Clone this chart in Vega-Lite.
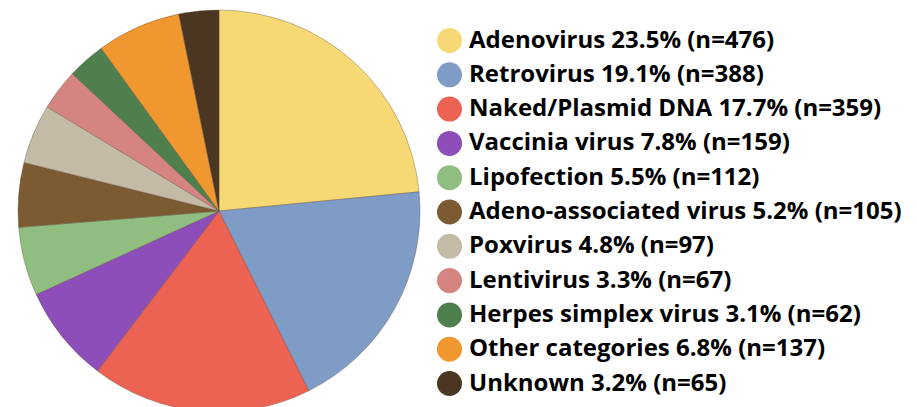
{
  "$schema": "https://vega.github.io/schema/vega-lite/v6.json",
  "width": 438,
  "height": 422,
  "padding": {"left": 0, "top": 0, "right": 479, "bottom": 0},
  "autosize": {"type": "none"},
  "background": "white",
  "view": {"stroke": null},
  "data": {
    "values": [
      {"idx": 1, "label": "Adenovirus 23.5% (n=476)", "n": 476},
      {"idx": 2, "label": "Retrovirus 19.1% (n=388)", "n": 388},
      {"idx": 3, "label": "Naked/Plasmid DNA 17.7% (n=359)", "n": 359},
      {"idx": 4, "label": "Vaccinia virus 7.8% (n=159)", "n": 159},
      {"idx": 5, "label": "Lipofection 5.5% (n=112)", "n": 112},
      {"idx": 6, "label": "Adeno-associated virus 5.2% (n=105)", "n": 105},
      {"idx": 7, "label": "Poxvirus 4.8% (n=97)", "n": 97},
      {"idx": 8, "label": "Lentivirus 3.3% (n=67)", "n": 67},
      {"idx": 9, "label": "Herpes simplex virus 3.1% (n=62)", "n": 62},
      {"idx": 10, "label": "Other categories 6.8% (n=137)", "n": 137},
      {"idx": 11, "label": "Unknown 3.2% (n=65)", "n": 65}
    ]
  },
  "mark": {"type": "arc", "outerRadius": 201, "stroke": "#5a4a35", "strokeWidth": 0.6, "strokeOpacity": 0.6},
  "encoding": {
    "theta": {"field": "n", "type": "quantitative", "stack": true},
    "order": {"field": "idx", "type": "quantitative"},
    "color": {
      "field": "label",
      "type": "nominal",
      "sort": {"field": "idx"},
      "scale": {
        "domain": ["Adenovirus 23.5% (n=476)", "Retrovirus 19.1% (n=388)", "Naked/Plasmid DNA 17.7% (n=359)", "Vaccinia virus 7.8% (n=159)", "Lipofection 5.5% (n=112)", "Adeno-associated virus 5.2% (n=105)", "Poxvirus 4.8% (n=97)", "Lentivirus 3.3% (n=67)", "Herpes simplex virus 3.1% (n=62)", "Other categories 6.8% (n=137)", "Unknown 3.2% (n=65)"],
        "range": ["#F6D874", "#7F9CC7", "#EC6353", "#8E4EB9", "#8FBE80", "#7C5B33", "#C3BBA6", "#D58481", "#4F7F4D", "#F1972F", "#4A3621"]
      },
      "legend": {
        "title": null,
        "orient": "none",
        "legendX": 437,
        "legendY": 28,
        "symbolType": "circle",
        "symbolSize": 625,
        "symbolStrokeWidth": 0,
        "labelFont": "Open Sans",
        "labelFontWeight": "bold",
        "labelFontSize": 24,
        "labelColor": "#000000",
        "labelOffset": 7,
        "labelLimit": 600,
        "rowPadding": 9.3
      }
    }
  }
}
